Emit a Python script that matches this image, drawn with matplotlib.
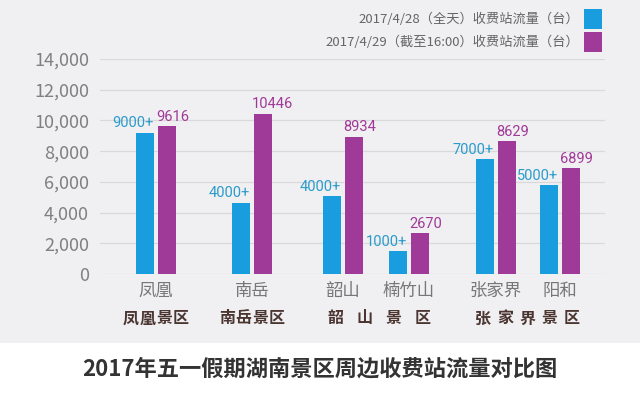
import matplotlib.pyplot as plt
from matplotlib.patches import Rectangle

plt.rcParams['font.family'] = ['Noto Sans CJK SC', 'DejaVu Sans']

# 数据
spots = ['凤凰', '南岳', '韶山', '楠竹山', '张家界', '阳和']
areas = ['凤凰景区', '南岳景区', '韶山景区', '张家界景区']
flow_428 = [9200, 4650, 5050, 1500, 7500, 5800]
flow_428_labels = ['9000+', '4000+', '4000+', '1000+', '7000+', '5000+']
flow_429 = [9616, 10446, 8934, 2670, 8629, 6899]
series_names = ['2017/4/28（全天）收费站流量（台）', '2017/4/29（截至16:00）收费站流量（台）']
yticks = [0, 2000, 4000, 6000, 8000, 10000, 12000, 14000]
title = '2017年五一假期湖南景区周边收费站流量对比图'

# 版式（像素坐标）
centers = [56, 152, 243, 309, 396, 460]
# 景区标签首尾字中心（像素）
area_spans = [(31, 81), (127, 177), (235, 323), (383, 472)]
bar_w = 17.5
off = 11

c_blue = '#1a9ddf'
c_purple = '#a03a98'

fig = plt.figure(figsize=(6.4, 3.96), dpi=100)
fig.patch.set_facecolor('white')
fig.patches.append(Rectangle((0, 53 / 396), 1, 1, transform=fig.transFigure,
                             facecolor='#f0eff1', edgecolor='none', zorder=-5))

ax = fig.add_axes([100 / 640, 1 - 274 / 396, 505 / 640, 215 / 396])
ax.set_facecolor('none')
ax.set_xlim(0, 505)
ax.set_ylim(0, 14000)

xb = [c - off for c in centers]
xp = [c + off for c in centers]
ax.bar(xb, flow_428, width=bar_w, color=c_blue, zorder=3)
ax.bar(xp, flow_429, width=bar_w, color=c_purple, zorder=3)

for x, v, lab in zip(xb, flow_428, flow_428_labels):
    ax.text(x + bar_w / 2, v + 150, lab, ha='right', va='bottom',
            color='#2a9ccc', fontsize=10.5, family='Roboto')
for x, v in zip(xp, flow_429):
    ax.text(x - bar_w / 2 - 2, v + 150, str(v), ha='left', va='bottom',
            color=c_purple, fontsize=10.5, family='Roboto')

ax.set_yticks(yticks)
ax.set_yticklabels([f'{t:,}' for t in yticks], fontsize=13, color='#808080')
ax.tick_params(axis='y', length=0, pad=8)
ax.set_xticks([])
ax.grid(axis='y', color='#d9d8da', linewidth=0.9, zorder=0)
for s in ax.spines.values():
    s.set_visible(False)

# 分类标签
for c, name in zip(centers, spots):
    ax.annotate(name, (c, 0), xytext=(0, -12), textcoords='offset points',
                ha='center', va='center', fontsize=12.5, color='#777777')
for (a, b), name in zip(area_spans, areas):
    n = len(name)
    for k, ch in enumerate(name):
        xc = a + (b - a) * k / (n - 1)
        ax.annotate(ch, (xc, 0), xytext=(0, -32), textcoords='offset points',
                    ha='center', va='center', fontsize=11.5, color='#4a3530',
                    fontweight='bold')

# 图例
for i, (name, col) in enumerate(zip(series_names, [c_blue, c_purple])):
    y = 1 - (19 + i * 23) / 396
    fig.text(579 / 640, y, name, ha='right', va='center', fontsize=9.5,
             color='#666666')
    fig.patches.append(Rectangle((584 / 640, y - 9.5 / 396), 18 / 640, 19 / 396,
                                 transform=fig.transFigure, facecolor=col,
                                 edgecolor='none'))

fig.text(0.5, 1 - 369 / 396, title, ha='center', va='center', fontsize=16,
         fontweight='bold', color='#333333')

fig.savefig('out.png', dpi=100)
